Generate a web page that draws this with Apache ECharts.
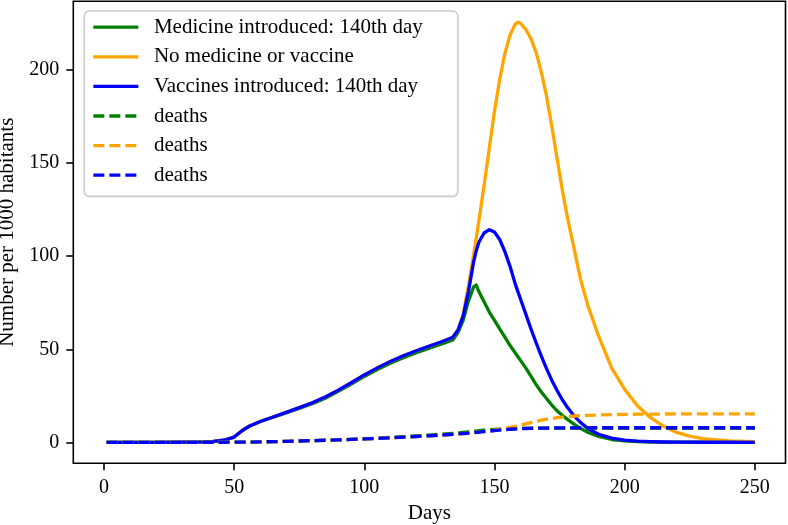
<!DOCTYPE html>
<html>
<head>
<meta charset="utf-8">
<script src="https://cdn.jsdelivr.net/npm/echarts@6/dist/echarts.min.js"></script>
<style>
html,body{margin:0;padding:0;background:#fff;}
#chart{width:788px;height:525px;}
</style>
</head>
<body>
<div id="chart"></div>
<script>
// ---- data ----
const days = [1, 10, 20, 30, 38, 42, 46, 50, 53, 56, 60, 65, 70, 75, 80, 85, 90, 95, 100, 105, 110, 115, 120, 125, 130, 134, 136, 138, 140, 142, 143, 144, 146, 148, 150, 152, 154, 156, 158, 159, 160, 162, 164, 166, 168, 170, 172, 174, 176, 178, 180, 183, 186, 190, 195, 200, 205, 210, 215, 220, 225, 230, 240, 250];

const medicine = [0, 0, 0, 0.05, 0.2, 0.5, 1.1, 2.8, 6.2, 8.8, 11.2, 13.5, 15.8, 18.2, 20.7, 23.7, 27.4, 31.3, 35.4, 39.1, 42.5, 45.5, 48.2, 50.6, 53, 55, 59, 65.7, 76, 83.5, 84.5, 81, 75.5, 70, 65.5, 61, 56.5, 52, 48, 46, 44, 40, 35.5, 31, 27, 23.5, 20, 17, 14.5, 12.3, 10.3, 7.5, 5.3, 3.1, 1.5, 0.7, 0.35, 0.15, 0.07, 0.03, 0.02, 0.01, 0, 0];

const noMedicine = [0, 0, 0, 0.05, 0.2, 0.5, 1.1, 2.8, 6.2, 8.8, 11.2, 13.6, 16.1, 18.6, 21.2, 24.3, 28, 32, 36.2, 40, 43.4, 46.5, 49.2, 51.7, 54.2, 56.5, 60.3, 69, 84, 101, 110, 119, 138, 158, 178, 195, 209, 219, 224.8, 225.8, 225.2, 222, 217, 209.5, 199, 186, 170, 153, 136, 121, 108, 88, 73, 57, 40, 28.5, 19.5, 13.2, 8.6, 5.3, 3.3, 2.0, 0.8, 0.35];

const vaccines = [0, 0, 0, 0.05, 0.2, 0.5, 1.1, 2.8, 6.2, 8.8, 11.2, 13.6, 16.1, 18.6, 21.2, 24.3, 28, 32, 36.2, 40, 43.4, 46.5, 49.2, 51.7, 54.2, 56.5, 60.3, 68, 81, 97, 103, 107.5, 112.5, 114.3, 113, 109, 102.5, 94.5, 85, 81, 77, 69, 61, 53.5, 46.3, 39.6, 33.4, 28, 23, 18.8, 15.2, 10.7, 7.3, 4.3, 2.2, 1.2, 0.6, 0.3, 0.15, 0.08, 0.04, 0.02, 0.01, 0];

const medicineDeaths = [0, 0, 0, 0, 0, 0, 0.02, 0.05, 0.08, 0.12, 0.2, 0.35, 0.5, 0.7, 0.9, 1.1, 1.3, 1.55, 1.8, 2.2, 2.6, 3.0, 3.45, 3.9, 4.4, 4.8, 5.0, 5.3, 5.6, 5.9, 6.05, 6.2, 6.5, 6.75, 6.95, 7.1, 7.25, 7.35, 7.42, 7.45, 7.48, 7.52, 7.55, 7.57, 7.6, 7.6, 7.6, 7.6, 7.6, 7.6, 7.6, 7.6, 7.6, 7.6, 7.6, 7.6, 7.6, 7.6, 7.6, 7.6, 7.6, 7.6, 7.6, 7.6];

const noMedicineDeaths = [0, 0, 0, 0, 0, 0, 0.02, 0.05, 0.08, 0.12, 0.2, 0.35, 0.5, 0.7, 0.9, 1.1, 1.3, 1.55, 1.8, 2.1, 2.4, 2.75, 3.1, 3.5, 3.9, 4.3, 4.5, 4.7, 4.9, 5.15, 5.3, 5.4, 5.7, 6.1, 6.5, 7.0, 7.5, 8.0, 8.6, 8.9, 9.2, 9.9, 10.6, 11.3, 11.9, 12.4, 12.8, 13.2, 13.5, 13.8, 14.0, 14.3, 14.5, 14.7, 14.9, 15.0, 15.1, 15.15, 15.2, 15.22, 15.25, 15.27, 15.3, 15.3];

const vaccinesDeaths = [0, 0, 0, 0, 0, 0, 0.02, 0.05, 0.08, 0.12, 0.2, 0.35, 0.5, 0.7, 0.9, 1.1, 1.3, 1.55, 1.8, 2.1, 2.4, 2.75, 3.1, 3.5, 3.9, 4.3, 4.5, 4.7, 4.9, 5.15, 5.3, 5.4, 5.7, 6.0, 6.3, 6.55, 6.8, 7.0, 7.15, 7.22, 7.3, 7.4, 7.48, 7.55, 7.6, 7.65, 7.68, 7.7, 7.72, 7.74, 7.75, 7.77, 7.78, 7.8, 7.8, 7.8, 7.8, 7.8, 7.8, 7.8, 7.8, 7.8, 7.8, 7.8];

const xTicks = [0, 50, 100, 150, 200, 250];
const yTicks = [0, 50, 100, 150, 200];
const seriesNames = ['Medicine introduced: 140th day', 'No medicine or vaccine', 'Vaccines introduced: 140th day', 'deaths', 'deaths', 'deaths'];
const seriesColors = ['#008000', '#FFA500', '#0000FF', '#008000', '#FFA500', '#0000FF'];
const seriesValues = [medicine, noMedicine, vaccines, medicineDeaths, noMedicineDeaths, vaccinesDeaths];
const xTitle = 'Days';
const yTitle = 'Number per 1000 habitants';

// ---- chart ----
const FONT = '"Liberation Serif", "DejaVu Serif", serif';
const chart = echarts.init(document.getElementById('chart'), null, {renderer: 'canvas'});

const ids = seriesNames.map((n, i) => n + '#' + i);
const series = seriesValues.map((vals, i) => ({
  name: ids[i],
  type: 'line',
  data: days.map((d, k) => [d, vals[k]]),
  symbol: 'none',
  smooth: false,
  lineStyle: {
    color: seriesColors[i],
    width: 3.3,
    type: i >= 3 ? [11, 5] : 'solid',
    join: 'round'
  },
  itemStyle: {color: seriesColors[i]},
  emphasis: {disabled: true},
  animation: false
}));

chart.setOption({
  animation: false,
  backgroundColor: '#ffffff',
  grid: {
    left: 73.3, right: 2.5, top: 1.2, bottom: 61.7,
    containLabel: false,
    outerBoundsMode: 'none',
    show: true, borderColor: '#000', borderWidth: 1.6, backgroundColor: 'transparent'
  },
  xAxis: {
    type: 'value',
    min: -11.8, max: 261.8,
    name: xTitle,
    nameLocation: 'middle',
    nameGap: 40,
    nameTextStyle: {fontFamily: FONT, fontSize: 21, color: '#000'},
    axisLine: {show: false, onZero: false},
    axisTick: {show: true, customValues: xTicks, length: 7, inside: false, lineStyle: {color: '#000', width: 1.6}},
    axisLabel: {customValues: xTicks, margin: 14, fontFamily: FONT, fontSize: 20, color: '#000'},
    splitLine: {show: false}
  },
  yAxis: {
    type: 'value',
    min: -11.3, max: 237.1,
    name: yTitle,
    nameLocation: 'middle',
    nameGap: 54,
    nameTextStyle: {fontFamily: FONT, fontSize: 21, color: '#000'},
    axisLine: {show: false, onZero: false},
    axisTick: {show: true, customValues: yTicks, length: 7, lineStyle: {color: '#000', width: 1.6}},
    axisLabel: {customValues: yTicks, margin: 14, fontFamily: FONT, fontSize: 20, color: '#000'},
    splitLine: {show: false}
  },
  legend: {
    orient: 'vertical',
    left: 84.3,
    top: 11,
    data: ids,
    formatter: (name) => name.split('#')[0],
    itemWidth: 45,
    itemHeight: 20,
    itemGap: 8.6,
    padding: [5.7, 35, 10.7, 7.4],
    backgroundColor: 'rgba(255,255,255,0.8)',
    borderColor: '#cccccc',
    borderWidth: 1.6,
    borderRadius: 5,
    selectedMode: false,
    itemStyle: {opacity: 0},
    lineStyle: {width: 3.3},
    textStyle: {fontFamily: FONT, fontSize: 21, color: '#000', padding: [0, 0, 0, 10.6]}
  },
  series: series
});
</script>
</body>
</html>
